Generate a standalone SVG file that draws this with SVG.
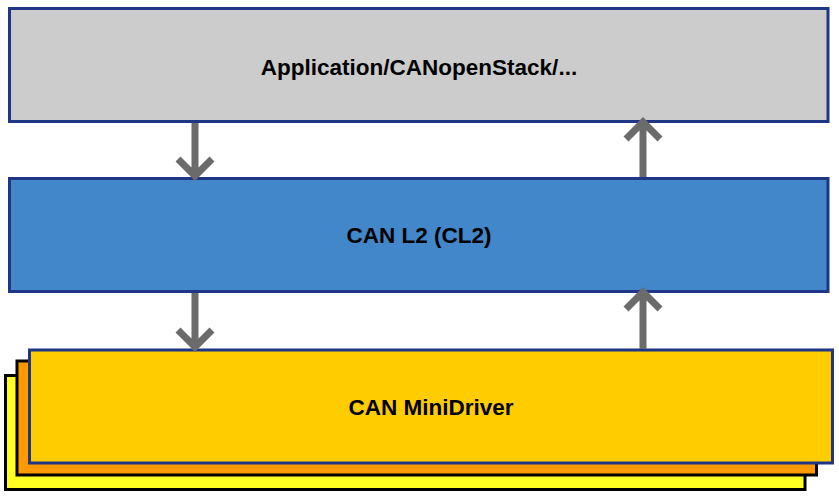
<svg xmlns="http://www.w3.org/2000/svg" width="839" height="498" viewBox="0 0 839 498">
<style>
.box{stroke-width:3}
.blue{stroke:#1f3585}
.blk{stroke:#000}
.lbl{font-family:"Liberation Sans",Arial,sans-serif;font-weight:bold;font-size:22.5px;fill:#000;text-anchor:middle}
.arr{stroke:#6b6b6b;stroke-width:7;fill:none}
</style>
<rect width="839" height="498" fill="#fff"/>
<g id="app">
<rect class="box blue" x="9.5" y="8.5" width="818.5" height="113" fill="#cccccc"/>
<text class="lbl" x="419" y="75">Application/CANopenStack/...</text>
</g>
<g id="cl2">
<rect class="box blue" x="9.5" y="178.5" width="818.5" height="113" fill="#4387cb"/>
<text class="lbl" x="419" y="243">CAN L2 (CL2)</text>
</g>
<g id="minidriver">
<rect class="box blk" x="5.5" y="375.5" width="799.5" height="114" fill="#ffff22"/>
<rect class="box blk" x="17" y="361" width="799.5" height="114" fill="#ff9900"/>
<rect class="box blue" x="29.5" y="350" width="803" height="113" fill="#ffcc00"/>
<text class="lbl" x="431" y="415">CAN MiniDriver</text>
</g>
<g id="connectors">
<path class="arr" d="M195 123V174M178 159L195 176L212 159"/>
<path class="arr" d="M643 177V126M626 139L643 122L660 139"/>
<path class="arr" d="M195 293V345M178 330L195 347L212 330"/>
<path class="arr" d="M643 349V296M626 309L643 292L660 309"/>
</g>
</svg>
